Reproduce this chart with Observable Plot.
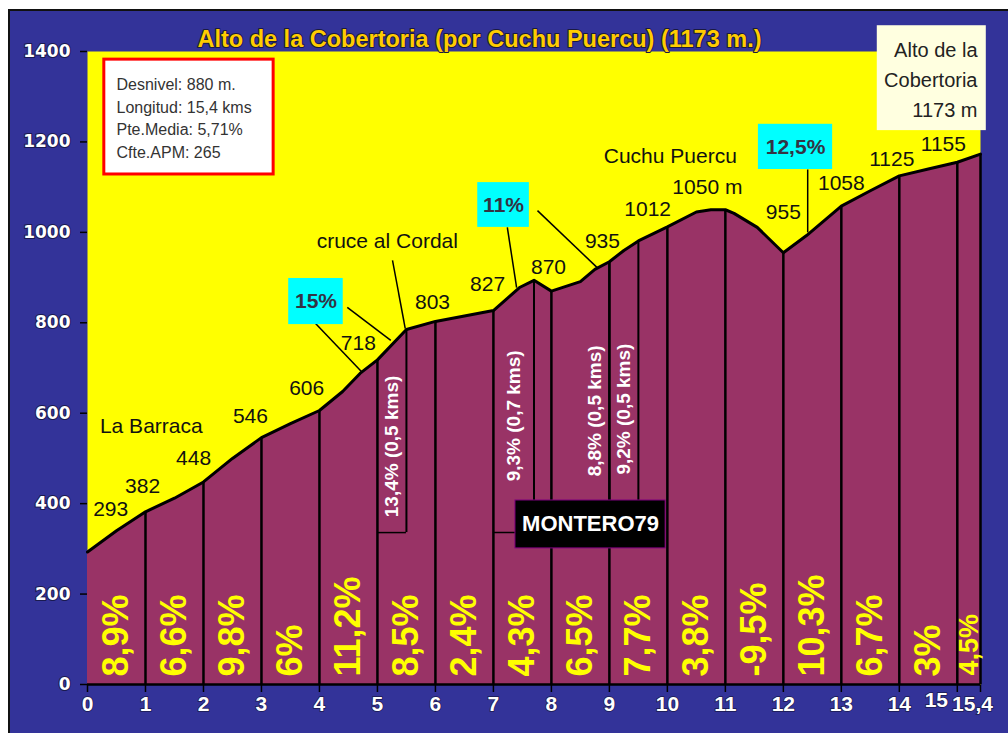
<!DOCTYPE html>
<html><head><meta charset="utf-8">
<script src="https://cdn.jsdelivr.net/npm/d3@7"></script>
<script src="https://cdn.jsdelivr.net/npm/@observablehq/plot@0.6"></script>
<style>
html,body{margin:0;padding:0;background:#fff;overflow:hidden;width:1008px;height:733px;}
#bg{position:absolute;left:8px;top:9px;width:1000px;height:724px;background:#333399;border-left:2px solid #111;border-top:2px solid #111;box-sizing:border-box;}
#chart{position:absolute;left:0;top:0;}
</style></head><body><div id="bg"></div><div id="chart"></div>
<script>
// ---- profile (km, elevation m) ----
const profileKm   = [0, 0.5, 1, 1.5, 2, 2.5, 3, 3.5, 4, 4.4, 4.7, 5, 5.5, 6, 6.5, 7, 7.45, 7.7, 8, 8.5, 8.75, 9, 9.25, 9.5, 10, 10.5, 10.75, 11, 11.15, 11.55, 12, 12.4, 13, 13.5, 14, 14.5, 15, 15.4];
const profileElev = [293, 340, 382, 412, 448, 500, 546, 577, 606, 648, 688, 718, 785, 803, 815, 827, 878, 894, 870, 891, 918, 935, 960, 981, 1012, 1045, 1050, 1050, 1042, 1011, 955, 993, 1058, 1092, 1125, 1140, 1155, 1173];

// ---- km divisions ----
const kmMarks = [1, 2, 3, 4, 5, 6, 7, 8, 9, 10, 11, 12, 13, 14, 15, 15.4];

// ---- segment gradients ----
const segStart = [0, 1, 2, 3, 4, 5, 6, 7, 8, 9, 10, 11, 12, 13, 14, 15];
const segEnd   = [1, 2, 3, 4, 5, 6, 7, 8, 9, 10, 11, 12, 13, 14, 15, 15.4];
const segGrade = ["8,9%", "6,6%", "9,8%", "6%", "11,2%", "8,5%", "2,4%", "4,3%", "6,5%", "7,7%", "3,8%", "-9,5%", "10,3%", "6,7%", "3%", "4,5%"];

// ---- steep sub-stretches ----
const noteText   = ["13,4% (0,5 kms)", "9,3% (0,7 kms)", "8,8% (0,5 kms)", "9,2% (0,5 kms)"];
const noteFrom   = [5, 7, 8.5, 9];
const noteTo     = [5.5, 7.7, 9, 9.5];
const noteTop    = [683, 739, 750, 754];
const noteBottom = [336, 336, 336, 336];

// ---- axis ticks ----
const xTicks = [0, 1, 2, 3, 4, 5, 6, 7, 8, 9, 10, 11, 12, 13, 14, 15, 15.4];
const xTickLabels = ["0", "1", "2", "3", "4", "5", "6", "7", "8", "9", "10", "11", "12", "13", "14", "15", "15,4"];
const yTicks = [0, 200, 400, 600, 800, 1000, 1200, 1400];
const yTickLabels = ["0", "200", "400", "600", "800", "1000", "1200", "1400"];

// ---- text labels on the profile ----
const labelText = ["293", "382", "448", "La Barraca", "546", "606", "718", "803", "827", "cruce al Cordal", "870", "935", "1012", "1050 m", "Cuchu Puercu", "955", "1058", "1125", "1155"];
const labelKm   = [0.40, 0.95, 1.83, 1.10, 2.81, 3.78, 4.67, 5.95, 6.90, 5.17, 7.95, 8.88, 9.66, 10.69, 10.05, 12.0, 13.0, 13.87, 14.76];
const labelElev = [387, 438, 500, 571, 593, 655, 754, 845, 885, 980, 922, 980, 1051, 1099, 1168, 1044, 1108, 1161, 1194];

// ---- cyan gradient boxes ----
const peakText = ["15%", "11%", "12,5%"];
const peakX1 = [3.47, 6.73, 11.57];
const peakX2 = [4.41, 7.62, 12.85];
const peakY1 = [796, 1011, 1139];
const peakY2 = [898, 1110, 1239];

// ---- leader lines ----
const leadX1 = [3.90, 4.48, 5.26, 7.24, 7.76, 12.42];
const leadY1 = [803, 834, 938, 1011, 1048, 1139];
const leadX2 = [4.74, 5.23, 5.48, 7.40, 8.79, 12.42];
const leadY2 = [690, 761, 787, 878, 922, 1000];

// ---- boxes ----
const titleText = "Alto de la Cobertoria (por Cuchu Puercu) (1173 m.)";
const infoLines = ["Desnivel: 880 m.", "Longitud: 15,4 kms", "Pte.Media: 5,71%", "Cfte.APM: 265"];
const summitLines = ["Alto de la", "Cobertoria", "1173 m"];
const signature = "MONTERO79";

// ---- build tables ----
const profile = profileKm.map((km, i) => ({km, elev: profileElev[i]}));
const elevAt = km => profile.find(p => Math.abs(p.km - km) < 1e-9).elev;
const divisions = kmMarks.map(km => ({km, elev: elevAt(km)}));
const segments = segStart.map((s, i) => ({start: s, end: segEnd[i], grade: segGrade[i]}));
const notes = noteText.map((t, i) => ({text: t, from: noteFrom[i], to: noteTo[i], top: noteTop[i], bottom: noteBottom[i], elevTo: elevAt(noteTo[i])}));
const labels = labelText.map((t, i) => ({text: t, km: labelKm[i], elev: labelElev[i]}));
const peaks = peakText.map((t, i) => ({text: t, x1: peakX1[i], x2: peakX2[i], y1: peakY1[i], y2: peakY2[i]}));
const leaders = leadX1.map((x, i) => ({x1: x, y1: leadY1[i], x2: leadX2[i], y2: leadY2[i]}));

const FONT = "'Liberation Sans', Arial, sans-serif";

const chart = Plot.plot({
  width: 1008, height: 733,
  marginLeft: 87, marginRight: 28, marginTop: 51, marginBottom: 49,
  style: {background: "transparent", fontFamily: FONT, overflow: "visible"},
  x: {domain: [0, 15.4], ticks: xTicks, tickFormat: d => xTickLabels[xTicks.indexOf(d)], tickSize: 8, tickPadding: 4, label: null},
  y: {domain: [0, 1400], ticks: yTicks, tickFormat: d => yTickLabels[yTicks.indexOf(d)], tickSize: 7, tickPadding: 10, label: null},
  marks: [
    Plot.frame({fill: "#ffff00", stroke: "none"}),
    Plot.areaY(profile, {x: "km", y: "elev", fill: "#993366"}),
    Plot.ruleX(divisions, {x: "km", y1: 0, y2: "elev", stroke: "#000", strokeWidth: 2.5}),
    Plot.ruleX(notes, {x: "to", y1: "bottom", y2: "elevTo", stroke: "#000", strokeWidth: 2}),
    Plot.ruleY(notes, {y: "bottom", x1: "from", x2: "to", stroke: "#000", strokeWidth: 1.5}),
    Plot.line(profile, {x: "km", y: "elev", stroke: "#000", strokeWidth: 3}),
    Plot.ruleY([0], {stroke: "#000", strokeWidth: 2.5}),
    // gradient labels at the bottom
    Plot.text(segments, {filter: d => d.end - d.start >= 1, x: d => (d.start + d.end) / 2, y: 0, dy: -8, text: "grade", rotate: -90, textAnchor: "start", fontSize: 36, fontWeight: "bold", fill: "#ffff00"}),
    Plot.text(segments, {filter: d => d.end - d.start < 1, x: d => (d.start + d.end) / 2, y: 0, dy: -9, text: "grade", rotate: -90, textAnchor: "start", fontSize: 27, fontWeight: "bold", fill: "#ffff00"}),
    // steep stretch notes
    Plot.text(notes, {x: d => (d.from + d.to) / 2, y: "top", text: "text", rotate: -90, textAnchor: "end", fontSize: 19, fontWeight: "bold", fill: "#fff"}),
    // signature
    Plot.rect([signature], {x1: 7.38, x2: 9.97, y1: 301, y2: 407, fill: "#000", stroke: "#800080", strokeWidth: 1}),
    Plot.text([signature], {x: (7.38 + 9.97) / 2, y: 354, text: d => d, fontSize: 22, fontWeight: "bold", fill: "#fff"}),
    // leader lines
    Plot.link(leaders, {x1: "x1", y1: "y1", x2: "x2", y2: "y2", stroke: "#000", strokeWidth: 1.5}),
    // cyan boxes
    Plot.rect(peaks, {x1: "x1", x2: "x2", y1: "y1", y2: "y2", fill: "#00ffff"}),
    Plot.text(peaks, {x: d => (d.x1 + d.x2) / 2, y: d => (d.y1 + d.y2) / 2, text: "text", fontSize: 21, fontWeight: "bold", fill: "#333344"}),
    // elevation & place labels
    Plot.text(labels, {x: "km", y: "elev", text: "text", fontSize: 21, fill: "#111"}),
    // info box
    Plot.rect([infoLines], {x1: 0.29, x2: 3.21, y1: 1128, y2: 1382, fill: "#fff", stroke: "#ff0000", strokeWidth: 3}),
    Plot.text([infoLines.join("\n")], {x: 0.5, y: 1256, text: d => d, textAnchor: "start", lineHeight: 1.42, fontSize: 16, fill: "#333"}),
    // summit box
    Plot.rect([summitLines], {x1: 13.62, x2: 15.5, y1: 1225, y2: 1457, fill: "#ffffe0"}),
    Plot.text([summitLines.join("\n")], {x: 15.4, y: 1342, dx: -3, text: d => d, textAnchor: "end", lineHeight: 1.5, fontSize: 20, fill: "#222"}),
    // title
    Plot.text([titleText], {x: 6.76, y: 1400, dy: -12, text: d => d, fontSize: 23.5, fontWeight: "bold", fill: "#ffcc00", stroke: "#1a1a40", strokeWidth: 2})
  ]
});

document.getElementById("chart").appendChild(chart);

// axis styling
const svg = d3.select(chart);
svg.selectAll('[aria-label^="x-axis"] line, [aria-label^="x-axis"] path, [aria-label^="y-axis"] line, [aria-label^="y-axis"] path')
  .attr("stroke", "#000").attr("stroke-width", 1.5);
svg.selectAll('[aria-label^="x-axis"] text')
  .attr("fill", "#fff").attr("font-size", 21).attr("font-weight", "bold")
  .attr("font-family", "'Liberation Sans Narrow', 'Liberation Sans', sans-serif")
  .attr("stroke", "#1a1a50").attr("stroke-width", 1.5).attr("paint-order", "stroke")
  .each(function() {
    const t = d3.select(this), s = t.text();
    if (s === "15") t.attr("transform", (t.attr("transform") || "") + " translate(-21,-4)");
    if (s === "15,4") t.attr("transform", (t.attr("transform") || "") + " translate(-8,0)");
  });
svg.selectAll('[aria-label^="y-axis"] text')
  .attr("fill", "#fff").attr("font-size", 17).attr("font-weight", "bold")
  .attr("font-family", "'DejaVu Sans', sans-serif")
  .attr("stroke", "#1a1a50").attr("stroke-width", 2).attr("paint-order", "stroke");
</script>
</body></html>
